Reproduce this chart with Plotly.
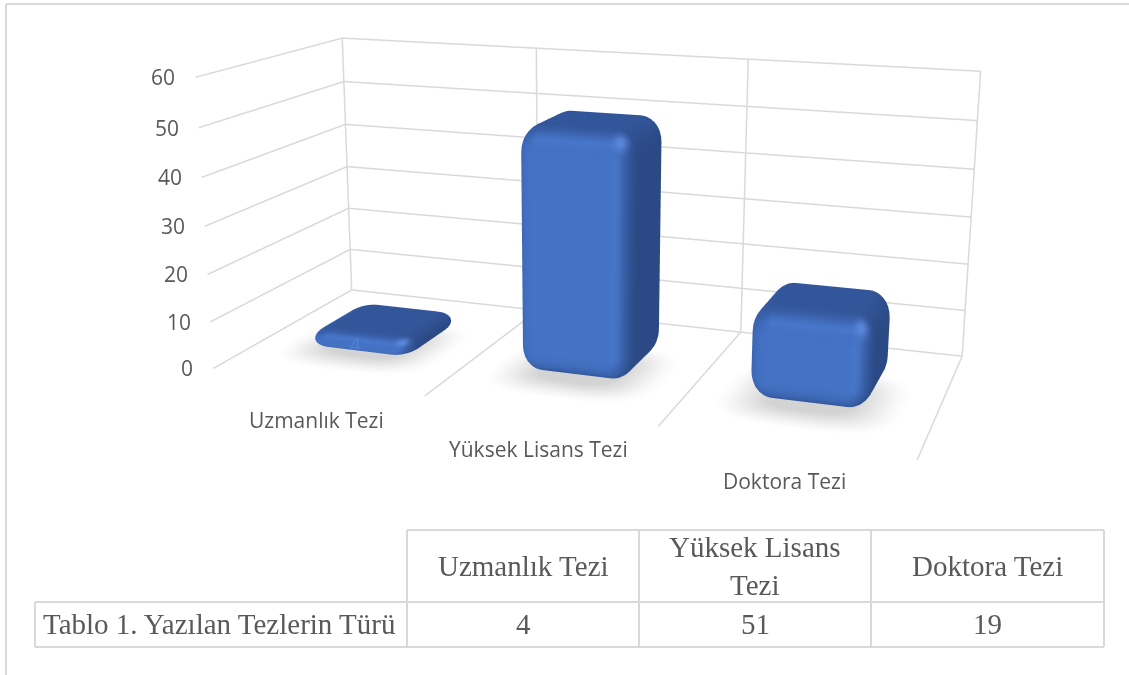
import numpy as np
import plotly.graph_objects as go

# ---- data ----
categories = ["Uzmanlık Tezi", "Yüksek Lisans Tezi", "Doktora Tezi"]
values = [4, 51, 19]
value_ticks = [0, 10, 20, 30, 40, 50, 60]
table_header = ["Uzmanlık Tezi", "Yüksek Lisans<br>Tezi", "Doktora Tezi"]
table_row_label = "Tablo 1. Yazılan Tezlerin Türü"

# ---- layout constants ----
W, H = 1129, 675
GREY = "#d9d9d9"
TXT = "#595959"
F = (H / 2) / np.tan(np.pi / 8)
EYE = 0.9
GAP_X, GAP_Y = 0.25, 0.28
R_X, R_Y, R_Z = 0.095, 0.11, 5.5

# view calibration: (category pos, depth, value) -> picture location of the chart's box corners
CAL = [((0,0,0),(213,368)),((0,0,60),(196,77)),((0,1,0),(352,290)),((0,1,60),(342,38)),
       ((3,1,0),(962,355)),((3,1,60),(981,71)),((3,0,0),(917,460)),((1,0,0),(425,396)),
       ((2,0,0),(658,427)),((1,1,60),(536,48)),((2,1,60),(748,60)),((2,1,0),(741,333))]
rows = []
for (x, y, z), (u, v) in CAL:
    D = np.array([x / 3, y, z / 60, 1.0])
    uu, vv = (u - W / 2) / F, (H / 2 - v) / F
    rows.append(np.r_[D, 0 * D, -uu * D])
    rows.append(np.r_[0 * D, D, -vv * D])
P = np.linalg.svd(np.array(rows))[2][-1].reshape(3, 4)
mid = np.array([0.5, 0.5, 0.5, 1.0])
P = P * (EYE / (P[2] @ mid))

def to_scene(x, y, z):
    x, y, z = np.asarray(x, float), np.asarray(y, float), np.asarray(z, float)
    D = np.stack([x / 3, y, z / 60, np.ones_like(x * y * z)], -1)
    return 2 * (D @ P[0]), 2 * (D @ P[2] - EYE), 2 * (D @ P[1])

def hexrgb(h):
    return np.array([int(h[i:i + 2], 16) for i in (1, 3, 5)], float)

C_FRONT, C_TOP, C_RIGHT, C_LEFT, C_BOTTOM = map(hexrgb, ["#4472c4", "#33569a", "#2b4a85", "#3a62ad", "#2c4d8c"])

def bar_mesh(i, value):
    x0, x1, y0, y1 = i + GAP_X, i + 1 - GAP_X, GAP_Y, 1 - GAP_Y
    rz = min(R_Z, value / 2)
    n = 9
    lon = []
    for cx, cy, a0 in [(x1 - R_X, y0 + R_Y, -np.pi / 2), (x1 - R_X, y1 - R_Y, 0),
                       (x0 + R_X, y1 - R_Y, np.pi / 2), (x0 + R_X, y0 + R_Y, np.pi)]:
        for t in np.linspace(0, np.pi / 2, n):
            lon.append((cx, cy, np.cos(a0 + t), np.sin(a0 + t)))
    lat = [(value, 0.0, 1.0, True)]
    for t in np.linspace(0, np.pi / 2, n):
        lat.append((value - rz, np.sin(t), np.cos(t), False))
    for t in np.linspace(np.pi / 2, np.pi, n):
        lat.append((rz, np.sin(t), np.cos(t), False))
    lat.append((0.0, 0.0, -1.0, True))
    xs, ys, zs, cols = [], [], [], []
    cbx, cby = (x0 + x1) / 2, (y0 + y1) / 2
    for zc, rxy, nz, cap in lat:
        for cx, cy, nx, ny in lon:
            if cap:
                xs.append(cbx); ys.append(cby); zs.append(zc)
                N = np.array([0, 0, nz])
            else:
                xs.append(cx + R_X * rxy * nx); ys.append(cy + R_Y * rxy * ny); zs.append(zc + rz * nz)
                N = np.array([rxy * nx, rxy * ny, nz])
            c = (max(-N[1], 0) ** 2 * C_FRONT + max(N[2], 0) ** 2 * C_TOP + max(N[0], 0) ** 2 * C_RIGHT
                 + max(-N[0], 0) ** 2 * C_LEFT + max(-N[2], 0) ** 2 * C_BOTTOM + max(N[1], 0) ** 2 * C_TOP)
            # soft sheen on the front bevels
            for H0, amp, wid in [((0.5, -0.6, 0.62), (38, 45, 60), 0.10), ((0.45, -0.89, 0.0), (8, 10, 14), 0.06),
                                 ((0.0, -0.8, 0.6), (8, 12, 18), 0.05)]:
                d = N - np.array(H0)
                c = c + np.array(amp) * np.exp(-(d @ d) / wid)
            c = np.clip(c, 0, 255)
            cols.append(f"rgb({c[0]:.0f},{c[1]:.0f},{c[2]:.0f})")
    nlon, nlat = len(lon), len(lat)
    I, J, K = [], [], []
    for a in range(nlat - 1):
        for b in range(nlon):
            p, q = a * nlon + b, a * nlon + (b + 1) % nlon
            r, s = p + nlon, q + nlon
            I += [p, q]; J += [q, s]; K += [r, r]
    X, Y, Z = to_scene(xs, ys, zs)
    return go.Mesh3d(x=X, y=Y, z=Z, i=I, j=J, k=K, vertexcolor=cols, hoverinfo="skip",
                     lighting=dict(ambient=1, diffuse=0, specular=0, roughness=1, fresnel=0),
                     flatshading=False, showscale=False)

def shadow_mesh(i):
    cx, cy = i + 0.5, 0.42
    ax, ay = 0.38, 0.30
    rings = np.linspace(0.0, 1.0, 14)
    th = np.linspace(0, 2 * np.pi, 49)[:-1]
    xs, ys, zs, cols = [], [], [], []
    for r in rings:
        for t in th:
            c, s = np.cos(t), np.sin(t)
            xs.append(cx + ax * r * np.sign(c) * abs(c) ** 0.6)
            ys.append(cy + ay * r * np.sign(s) * abs(s) ** 0.6)
            zs.append(0.0)
            g = 255 - 44 * min(1, (1 - r) / 0.55) ** 1.3
            cols.append(f"rgb({g:.0f},{g:.0f},{g:.0f})")
    nt = len(th)
    I, J, K = [], [], []
    for a in range(len(rings) - 1):
        for b in range(nt):
            p, q = a * nt + b, a * nt + (b + 1) % nt
            I += [p, q]; J += [q, q + nt]; K += [p + nt, p + nt]
    X, Y, Z = to_scene(xs, ys, zs)
    return go.Mesh3d(x=X, y=Y, z=Z, i=I, j=J, k=K, vertexcolor=cols, hoverinfo="skip",
                     lighting=dict(ambient=1, diffuse=0, specular=0, roughness=1, fresnel=0))

# gridlines
gx, gy, gz = [], [], []
def seg(a, b):
    gx.extend([a[0], b[0], None]); gy.extend([a[1], b[1], None]); gz.extend([a[2], b[2], None])
zmax = value_ticks[-1]
n_cat = len(categories)
for t in value_ticks:
    seg((0, 0, t), (0, 1, t))
    seg((0, 1, t), (n_cat, 1, t))
for b in range(n_cat + 1):
    seg((b, 0, 0), (b, 1, 0))
    seg((b, 1, 0), (b, 1, zmax))
lx, ly, lz = [], [], []
for a, b, c in zip(gx, gy, gz):
    if a is None:
        lx.append(None); ly.append(None); lz.append(None)
    else:
        p = to_scene(a, b, c)
        lx.append(float(p[0])); ly.append(float(p[1])); lz.append(float(p[2]))

traces = [go.Scatter3d(x=lx, y=ly, z=lz, mode="lines", line=dict(color=GREY, width=3), hoverinfo="skip", connectgaps=False)]
for i in range(n_cat):
    traces.append(shadow_mesh(i))
for i, v in enumerate(values):
    traces.append(bar_mesh(i, v))

fig = go.Figure(traces)

# scene annotations: value ticks, categories, data label
ann3d = []
def a3(x, y, z, text, **kw):
    p = to_scene(x, y, z)
    ann3d.append(dict(x=float(p[0]), y=float(p[1]), z=float(p[2]), text=text, showarrow=False, **kw))
for t in value_ticks:
    a3(0, 0, t, str(t), xanchor="right", xshift=-18, font=dict(family="Open Sans", size=21, color=TXT))
for i, c in enumerate(categories):
    a3(i + 0.5, 0, 0, c, xshift=0, yshift=-38, font=dict(family="Open Sans", size=21, color=TXT))
a3(0.5, GAP_Y, values[0] / 2, str(values[0]), yshift=3, font=dict(family="Open Sans", size=19, color="#4f80d8"))

ax_off = dict(visible=False, range=[-1, 1], autorange=False, showspikes=False)
fig.update_layout(
    width=W, height=H, margin=dict(l=0, r=0, t=0, b=0), showlegend=False,
    paper_bgcolor="white",
    scene=dict(domain=dict(x=[0, 1], y=[0, 1]), aspectmode="manual", aspectratio=dict(x=1, y=1, z=1),
               xaxis=ax_off, yaxis=ax_off, zaxis=ax_off, bgcolor="white",
               camera=dict(eye=dict(x=0, y=-EYE, z=0), center=dict(x=0, y=0, z=0), up=dict(x=0, y=0, z=1),
                           projection=dict(type="perspective")),
               annotations=ann3d),
)

# frame + table as layout furniture
def px(x): return x / W
def py(y): return 1 - y / H
def line(x0, y0, x1, y1):
    fig.add_shape(type="line", xref="paper", yref="paper", x0=px(x0), y0=py(y0), x1=px(x1), y1=py(y1),
                  line=dict(color=GREY, width=2))
def text(x, y, s, anchor="center"):
    fig.add_annotation(xref="paper", yref="paper", x=px(x), y=py(y), text=s, showarrow=False, xanchor=anchor,
                       yanchor="middle", font=dict(family="Liberation Serif", size=29, color=TXT))
line(6, 4, W, 4); line(6, 4, 6, H)
T_X = [35, 407, 639, 871, 1104]
T_Y = [530, 602, 647]
line(T_X[1], T_Y[0], T_X[4], T_Y[0])
line(T_X[0], T_Y[1], T_X[4], T_Y[1])
line(T_X[0], T_Y[2], T_X[4], T_Y[2])
line(T_X[0], T_Y[1], T_X[0], T_Y[2])
for x in T_X[1:]:
    line(x, T_Y[0], x, T_Y[2])
text(T_X[0] + 6, 624, table_row_label, "left")
for k in range(3):
    xc = (T_X[k + 1] + T_X[k + 2]) / 2
    text(xc, 566, table_header[k])
    text(xc, 624, str(values[k]))

fig.write_html("out.html", config=dict(displayModeBar=False),
               post_script="document.body.style.margin='0';document.body.style.overflow='hidden';")
